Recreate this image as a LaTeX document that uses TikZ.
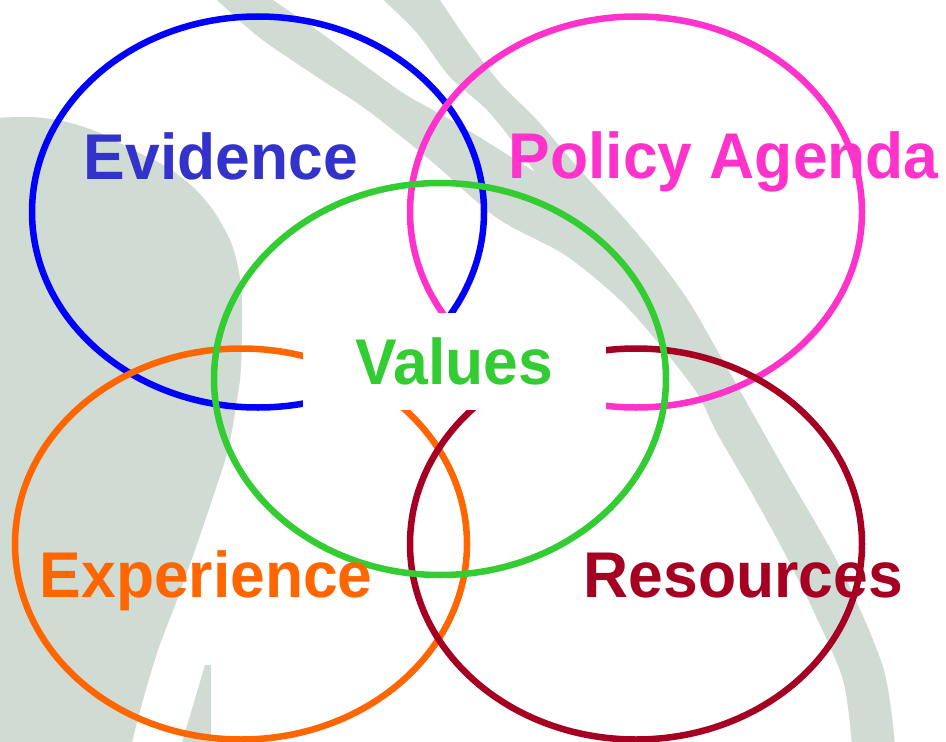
\documentclass[tikz,border=0pt]{standalone}
\usepackage{fontspec}
\setmainfont{Liberation Sans}[FakeStretch=0.965]
\definecolor{evidblue}{HTML}{0000FF}
\definecolor{evidtext}{HTML}{3333CC}
\definecolor{policypink}{HTML}{FF33CC}
\definecolor{valuegreen}{HTML}{33CC33}
\definecolor{exporange}{HTML}{FF6600}
\definecolor{resred}{HTML}{A50021}
\definecolor{sage}{HTML}{D0DBD3}
\usepackage{tikz}
\tikzset{
  ring/.style={line width=1.85pt},
  setname/.style={font=\fontsize{18.4pt}{20pt}\selectfont\bfseries,inner sep=0pt,anchor=base west},
}

\begin{document}
\begin{tikzpicture}[x=0.1mm,y=-0.1mm]
    \useasboundingbox (0,0) rectangle (946,741);
    \clip (0,0) rectangle (946,741);
    \fill[white] (0,0) rectangle (946,741);
    \fill[sage] plot[smooth] coordinates {(-5,118) (33,117) (67,122) (100,133) (133,150) (167,167) (193,187) (213,210) (230,240) (238,267) (242,300) (241,367) (237,400) (228,450) (212,500) (195,550) (177,600) (158,650) (143,700) (131,746)} -- (-5,746) -- cycle;
    \fill[sage] (181,746) -- (205,665) -- (211,665) -- (211,746) -- cycle;
    \fill[sage] plot[smooth] coordinates {(212,-5) (217,0) (260,38) (317,77) (367,110) (430,160) (497,218) (565,255) (620,300) (660,345) (697,393) (717,433) (750,490) (783,550) (813,610) (843,680) (852,746)}
        -- plot[smooth] coordinates {(895,746) (883,667) (840,567) (783,467) (717,350) (688,300) (655,255) (623,217) (580,170) (537,120) (500,83) (467,40) (440,0) (437,-5)}
        -- plot[smooth] coordinates {(383,-5) (384,0) (417,33) (450,77) (487,110) (517,147) (535,172)}
        -- plot[smooth] coordinates {(535,172) (500,150) (463,127) (433,110) (403,93) (367,67) (317,30) (273,0) (270,-5)} -- cycle;
    \draw[ring,evidblue] (258,212) ellipse [x radius=226, y radius=195.5];
    \draw[ring,policypink] (636,212) ellipse [x radius=226, y radius=195.5];
    \draw[ring,exporange] (241,544) ellipse [x radius=226, y radius=195.5];
    \draw[ring,resred] (636,544) ellipse [x radius=226, y radius=195.5];
    \draw[ring,valuegreen] (440,379) ellipse [x radius=226, y radius=196];
    \node[setname,valuegreen,anchor=center,fill=white,minimum width=3.03cm,minimum height=0.97cm] (values) at (454.5,361.5) {Values};
    \node[setname,evidtext] (evidence) at (83,179) {Evidence};
    \node[setname,policypink] (policy) at (508,178) {Policy Agenda};
    \node[setname,exporange] (experience) at (39,597) {Experience};
    \node[setname,resred] (resources) at (583,597) {Resources};
\end{tikzpicture}
\end{document}
